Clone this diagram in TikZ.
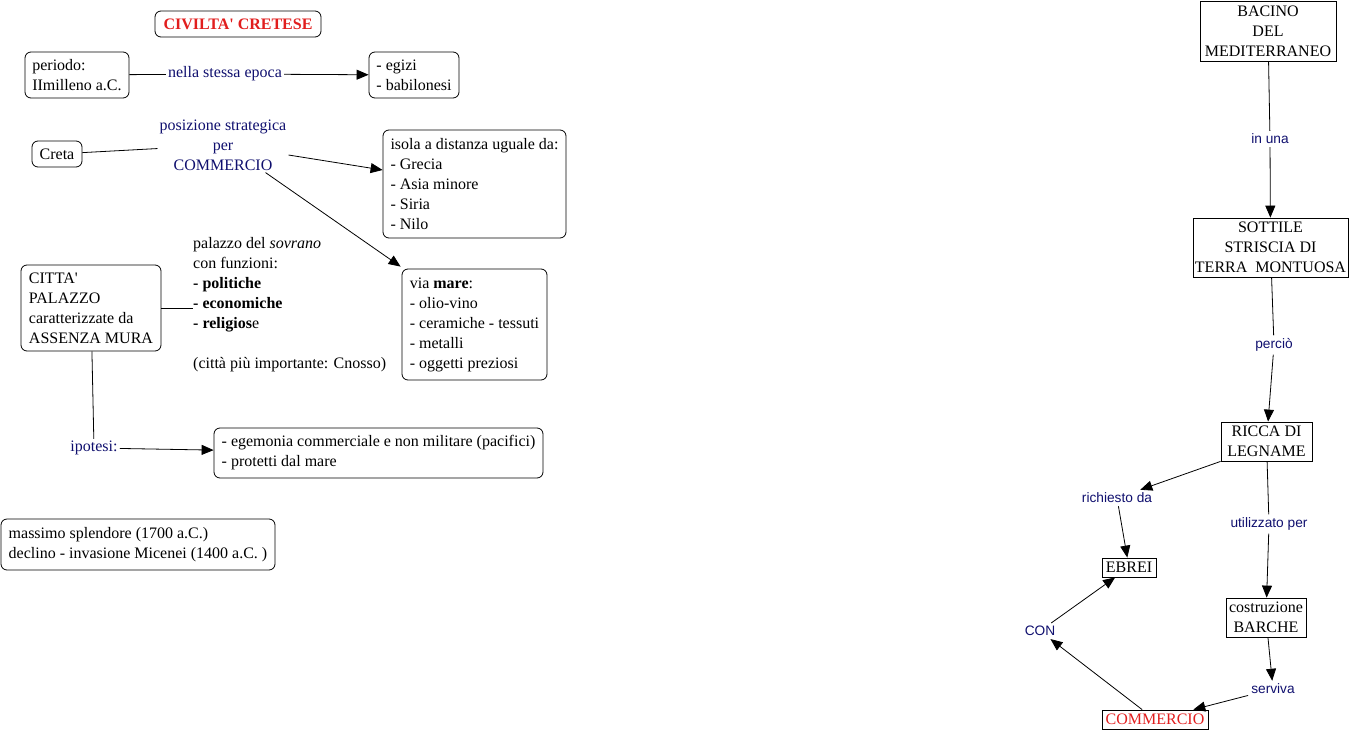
\documentclass[tikz,border=0pt]{standalone}
\usepackage{fontspec}
\setmainfont{Liberation Serif}[Ligatures=TeXOff]
\newfontfamily\labsans{Liberation Sans}
\usetikzlibrary{arrows.meta}
\definecolor{labc}{RGB}{15,15,110}
\definecolor{hired}{RGB}{225,30,30}
\tikzset{
  every node/.style={font=\fontsize{16}{20}\selectfont},
  rbox/.style={draw, rounded corners=6pt, line width=0.8pt, inner xsep=7pt, inner ysep=0pt, align=left},
  sbox/.style={draw, line width=0.8pt, inner sep=0pt, align=center},
  lab/.style={text=labc, inner sep=2pt, align=center},
  slab/.style={text=labc, inner sep=3pt, font=\labsans\fontsize{13.7}{16}\selectfont},
  conn/.style={line width=0.8pt},
  arr/.style={conn, -{Triangle[length=12pt,width=10pt]}},
}
\begin{document}
\begin{tikzpicture}[x=1pt,y=-1pt]
\useasboundingbox (0,0) rectangle (1355,731);
% left part
\node[rbox, align=center, text=hired, font=\bfseries\fontsize{16}{20}\selectfont, minimum width=166pt, minimum height=26pt] (title) at (238,24) {CIVILTA' CRETESE};
\node[rbox, minimum width=104pt, minimum height=46pt] (periodo) at (77,75) {periodo:\\IImilleno a.C.};
\node[rbox, minimum width=90pt, minimum height=46pt] (egizi) at (414,75) {- egizi\\- babilonesi};
\node[rbox, align=center, minimum width=50pt, minimum height=26pt] (creta) at (57,154) {Creta};
\node[rbox, minimum width=183pt, minimum height=108pt] (isola) at (474.5,184) {isola a distanza uguale da:\\- Grecia\\- Asia minore\\- Siria\\- Nilo};
\node[rbox, minimum width=140pt, minimum height=86pt] (citta) at (91,308) {CITTA'\\PALAZZO\\caratterizzate da\\ASSENZA MURA};
\node[rbox, minimum width=145pt, minimum height=111pt] (viamare) at (474.5,324.5) {via \textbf{mare}:\\- olio-vino\\- ceramiche - tessuti\\- metalli\\- oggetti preziosi};
\node[rbox, minimum width=329pt, minimum height=50pt] (egem) at (378.5,453) {- egemonia commerciale e non militare (pacifici)\\- protetti dal mare};
\node[rbox, minimum width=274pt, minimum height=51pt] (massimo) at (138,544.5) {massimo splendore (1700 a.C.)\\declino - invasione Micenei (1400 a.C. )};
\node[inner sep=0pt, anchor=north west, align=left] (pal) at (193,237) {palazzo del \textit{sovrano}\\con funzioni:\\\textbf{- politiche}\\\textbf{- economiche}\\\textbf{- religios}e\\[20pt](città più importante: Cnosso)};
\node[lab] (nella) at (225,74) {nella stessa epoca};
\node[lab] (pos) at (223,145) {posizione strategica\\per\\COMMERCIO};
\node[lab] (ipo) at (94,448) {ipotesi:};
\draw[conn] (periodo) -- (nella);
\draw[arr] (nella) -- (egizi);
\draw[conn] (creta) -- (pos);
\draw[arr] ([yshift=-10pt]pos.east) -- ([yshift=14pt]isola.west);
\draw[arr] ([xshift=-23pt]pos.south east) -- ([xshift=-1pt,yshift=2pt]viamare.north west);
\draw[conn] (citta.east) -- (citta.east -| pal.west);
\draw[conn] (citta) -- (ipo);
\draw[arr] (ipo) -- (egem);
% right part
\node[sbox, minimum width=136pt, minimum height=60pt] (bacino) at (1268,31) {BACINO\\DEL\\MEDITERRANEO};
\node[sbox, minimum width=155pt, minimum height=59pt] (sottile) at (1270.5,247.5) {SOTTILE\\STRISCIA DI\\TERRA\ \ MONTUOSA};
\node[sbox, minimum width=91pt, minimum height=39pt] (ricca) at (1266.5,441.5) {RICCA DI\\LEGNAME};
\node[sbox, minimum width=54pt, minimum height=19pt] (ebrei) at (1129,567.5) {EBREI};
\node[sbox, minimum width=80pt, minimum height=39pt] (costr) at (1266,617.5) {costruzione\\BARCHE};
\node[sbox, text=hired, minimum width=106pt, minimum height=19pt] (comm) at (1155,719.5) {COMMERCIO};
\node[slab] (inuna) at (1270,139) {in una};
\node[slab] (percio) at (1274,345) {perciò};
\node[slab] (rich) at (1117,498) {richiesto da};
\node[slab] (util) at (1269,524) {utilizzato per};
\node[slab] (serv) at (1273,689) {serviva};
\node[slab] (con) at (1040,631) {CON};
\draw[conn] (bacino) -- (inuna);
\draw[arr] (inuna) -- (sottile);
\draw[conn] (sottile) -- (percio);
\draw[arr] (percio) -- (ricca);
\draw[arr] (ricca.south west) -- (rich);
\draw[arr] (rich) -- (ebrei);
\draw[conn] (ricca) -- (util);
\draw[arr] (util) -- (costr);
\draw[arr] (costr) -- (serv);
\draw[arr] (serv) -- (comm);
\draw[arr] (comm) -- (con);
\draw[arr] (con) -- (ebrei);
\end{tikzpicture}
\end{document}
